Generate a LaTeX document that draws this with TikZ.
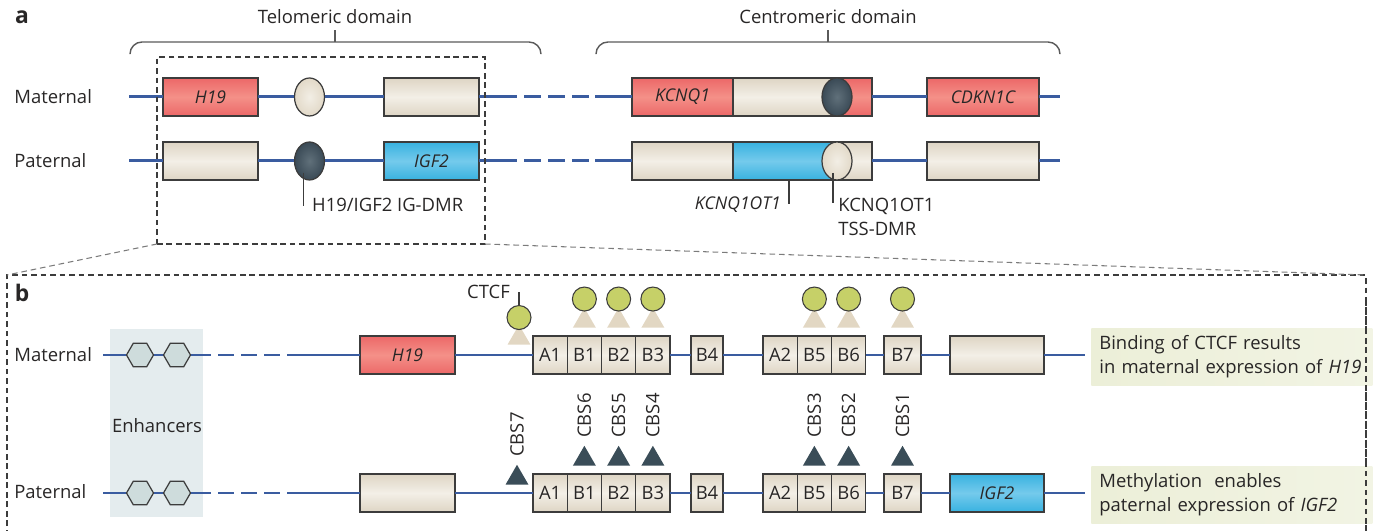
\documentclass[tikz,border=0pt]{standalone}
\usepackage{fontspec}
\setmainfont{Open Sans}
\usepackage{tikz}
\usetikzlibrary{shapes,arrows,positioning}

\definecolor{ink}{RGB}{40,38,38}
\definecolor{edge}{RGB}{60,60,60}
\definecolor{dnablue}{RGB}{58,92,160}
\definecolor{genered}{RGB}{236,104,104}
\definecolor{generedlt}{RGB}{244,144,136}
\definecolor{beige}{RGB}{222,213,196}
\definecolor{beigelt}{RGB}{243,239,231}
\definecolor{geneblue}{RGB}{56,178,224}
\definecolor{genebluelt}{RGB}{116,202,236}
\definecolor{methdk}{RGB}{58,74,86}
\definecolor{methlt}{RGB}{96,112,122}
\definecolor{unmeth}{RGB}{226,217,200}
\definecolor{unmethlt}{RGB}{242,238,229}
\definecolor{hexfill}{RGB}{206,220,220}
\definecolor{enhbg}{RGB}{228,236,238}
\definecolor{ctcfgreen}{RGB}{198,208,104}
\definecolor{sitebeige}{RGB}{226,215,195}
\definecolor{sitedark}{RGB}{58,77,88}
\definecolor{notegreen}{RGB}{236,239,216}
\definecolor{bracegrey}{RGB}{90,90,90}

\tikzstyle{dna} = [draw=dnablue, line width=1.7pt]
\tikzstyle{gapa} = [dna, dash pattern=on 3.4mm off 1.4mm, dash phase=3.4mm]
\tikzstyle{gapb} = [dna, dash pattern=on 3.2mm off 1.4mm, dash phase=3.2mm]
\tikzstyle{gbox} = [rectangle, draw=edge, line width=0.7pt, inner sep=0pt, outer sep=0pt, minimum height=7.6mm]
\tikzstyle{rbox} = [gbox, top color=genered, bottom color=genered, middle color=generedlt, font=\itshape]
\tikzstyle{wbox} = [gbox, top color=beige, bottom color=beige, middle color=beigelt]
\tikzstyle{bbox} = [gbox, top color=geneblue, bottom color=geneblue, middle color=genebluelt, font=\itshape]
\tikzstyle{seg} = [wbox, minimum width=6.85mm]
\tikzstyle{dmr} = [ellipse, draw=edge, line width=0.7pt, minimum width=6mm, minimum height=7.6mm, inner sep=0pt]
\tikzstyle{meth} = [dmr, inner color=methlt, outer color=methdk]
\tikzstyle{unmeth} = [dmr, inner color=unmethlt, outer color=unmeth]
\tikzstyle{enh} = [regular polygon, regular polygon sides=6, draw=edge, line width=0.7pt, fill=hexfill, minimum size=5.4mm, inner sep=0pt]
\tikzstyle{ctcf} = [circle, draw=edge, line width=0.6pt, fill=ctcfgreen, minimum size=4.8mm, inner sep=0pt]
\tikzstyle{site} = [regular polygon, regular polygon sides=3, inner sep=0pt, minimum size=5.3mm, anchor=south]
\tikzstyle{bound} = [site, fill=sitebeige]
\tikzstyle{free} = [site, fill=sitedark]
\tikzstyle{cbs} = [rotate=90, inner sep=0pt, anchor=west]
\tikzstyle{row} = [anchor=west, inner sep=0pt]
\tikzstyle{callout} = [draw=edge, line width=0.6pt]
\tikzstyle{frame} = [draw=edge, line width=0.6pt, dash pattern=on 3.2pt off 2.2pt]
\tikzstyle{brace} = [draw=bracegrey, line width=0.8pt, rounded corners=2.4mm]
\tikzstyle{note} = [left color=notegreen, right color=notegreen!70!white, anchor=north west, minimum height=11.4mm, text width=53mm, inner xsep=1.6mm, align=left]
\tikzstyle{panel} = [font=\fontsize{13}{15}\selectfont\bfseries]

\begin{document}
\begin{tikzpicture}[x=0.2mm, y=-0.2mm, font=\fontsize{10.5}{13.6}\selectfont, text=ink]
\useasboundingbox (0,0) rectangle (1373,531);

% a: whole locus
\node[panel] (pa) at (22,17) {a};
\node (telo) at (335,17) {Telomeric domain};
\node (centro) at (828,17) {Centromeric domain};
\coordinate (telomid) at (335,42);
\coordinate (centromid) at (828,42);
\draw[brace] (130,54) |- (telomid) -| (541,54);
\draw[brace] (596,54) |- (centromid) -| (1060,54);
\draw[callout, draw=bracegrey] (telomid) -- (telo.south);
\draw[callout, draw=bracegrey] (centromid) -- (centro.south);

\node[row] (matA) at (14,97) {Maternal};
\node[row] (patA) at (14,161) {Paternal};

\coordinate (ma0) at (129,97);
\node[rbox, minimum width=19mm] (h19a) at (210.5,97) {H19};
\node[unmeth] (igm) at (309.5,97) {};
\node[wbox, minimum width=19mm] (igf2m) at (431.5,97) {};
\coordinate (ma1) at (517,97);
\coordinate (ma2) at (595,97);
\node[rbox, minimum width=48mm] (kcnqm) at (752,97) {};
\node[wbox, minimum width=20.8mm, anchor=west] (kcnqmid) at (733,97) {};
\node[meth] (tssm) at (837,97) {};
\node[font=\itshape] (kcnq1) at (682.5,97) {KCNQ1};
\node[rbox, minimum width=22.4mm] (cdkn) at (983,97) {CDKN1C};
\coordinate (ma3) at (1060,97);

\draw[dna] (ma0) -- (h19a) -- (igm) -- (igf2m) -- (ma1);
\draw[gapa] (ma1) -- (ma2);
\draw[dna] (ma2) -- (kcnqm) -- (cdkn) -- (ma3);

\coordinate (pa0) at (129,161);
\node[wbox, minimum width=19mm] (h19p) at (210.5,161) {};
\node[meth] (igp) at (309.5,161) {};
\node[bbox, minimum width=19mm] (igf2p) at (431.5,161) {IGF2};
\coordinate (pa1) at (517,161);
\coordinate (pa2) at (595,161);
\node[wbox, minimum width=48mm] (kcnqp) at (752,161) {};
\node[bbox, minimum width=20.8mm, anchor=west] (ot1) at (733,161) {};
\node[unmeth] (tssp) at (837,161) {};
\node[wbox, minimum width=22.4mm] (cdknp) at (983,161) {};
\coordinate (pa3) at (1060,161);

\draw[dna] (pa0) -- (h19p) -- (igp) -- (igf2p) -- (pa1);
\draw[gapa] (pa1) -- (pa2);
\draw[dna] (pa2) -- (kcnqp) -- (cdknp) -- (pa3);

\node[anchor=west] (igtxt) at (306,205) {H19/IGF2 IG-DMR};
\draw[callout] ([xshift=-1.2mm, yshift=1.6mm]igp.south) -- ++(0,-6.6mm);
\node[anchor=east, font=\itshape] (ot1txt) at (787,205) {KCNQ1OT1};
\draw[callout] ([xshift=0.8mm]ot1.south) -- ++(0,-4.8mm);
\node[anchor=north west, inner sep=0pt, align=left] (tsstxt) at (838,198) {KCNQ1OT1\\TSS-DMR};
\draw[callout] ([xshift=-0.8mm, yshift=-2.4mm]tssp.center) -- ++(0,-6mm);

% zoom frames
\node[frame, rectangle, minimum width=65.6mm, minimum height=37.4mm, anchor=north west, inner sep=0pt, outer sep=0pt] (zoomA) at (157,57) {};
\coordinate (bNW) at (7,275);
\coordinate (bNE) at (1366,275);
\draw[frame] (7,545) -- (bNW) -- (bNE) -- (1366,545);
\draw[frame, draw=bracegrey!80] (zoomA.south west) -- (bNW);
\draw[frame, draw=bracegrey!80] (zoomA.south east) -- (bNE);

% b: imprinting control region
\node[panel] (pb) at (22,293) {b};
\node[fill=enhbg, minimum width=18.6mm, minimum height=37.6mm, anchor=north west, inner sep=0pt] (enhbox) at (110,329) {};
\node (enhtxt) at (157,426) {Enhancers};
\node[row] (matB) at (14,355) {Maternal};
\node[row] (patB) at (14,492) {Paternal};

\coordinate (mb0) at (103,355);
\node[enh] (em1) at (140,355) {};
\node[enh] (em2) at (177,355) {};
\coordinate (mb1) at (211,355);
\coordinate (mb2) at (287,355);
\node[rbox, minimum width=19mm] (h19b) at (407.5,355) {H19};
\node[seg, anchor=west] (a1m) at (533,355) {A1};
\node[seg, right=0pt of a1m] (b1m) {B1};
\node[seg, right=0pt of b1m] (b2m) {B2};
\node[seg, right=0pt of b2m] (b3m) {B3};
\node[wbox, minimum width=6.4mm] (b4m) at (707,355) {B4};
\node[seg, anchor=west] (a2m) at (763,355) {A2};
\node[seg, right=0pt of a2m] (b5m) {B5};
\node[seg, right=0pt of b5m] (b6m) {B6};
\node[wbox, minimum width=7.4mm] (b7m) at (902.5,355) {B7};
\node[wbox, minimum width=18.8mm] (endm) at (997,355) {};
\coordinate (mb3) at (1085,355);

\draw[dna] (mb0) -- (em1) -- (em2) -- (mb1);
\draw[gapb] (mb1) -- (mb2);
\draw[dna] (mb2) -- (h19b) -- (a1m);
\draw[dna] (b3m) -- (b4m) -- (a2m);
\draw[dna] (b6m) -- (b7m) -- (endm) -- (mb3);

\node[bound] (s7m) at (519,345) {};
\node[ctcf, above=-1.2mm of s7m] (c7m) {};
\node[anchor=east] (ctcftxt) at (516,292) {CTCF};
\draw[callout] (c7m.north) -- (c7m.north |- ctcftxt.center);
\node[bound, above=1.6mm of b1m] (s6m) {};
\node[bound, above=1.6mm of b2m] (s5m) {};
\node[bound, above=1.6mm of b3m] (s4m) {};
\node[bound, above=1.6mm of b5m] (s3m) {};
\node[bound, above=1.6mm of b6m] (s2m) {};
\node[bound, above=1.6mm of b7m] (s1m) {};
\node[ctcf, above=-0.9mm of s6m] (c6m) {};
\node[ctcf, above=-0.9mm of s5m] (c5m) {};
\node[ctcf, above=-0.9mm of s4m] (c4m) {};
\node[ctcf, above=-0.9mm of s3m] (c3m) {};
\node[ctcf, above=-0.9mm of s2m] (c2m) {};
\node[ctcf, above=-0.9mm of s1m] (c1m) {};

\node[note] (matnote) at (1091,328) {Binding of CTCF results\\in maternal expression of \textit{H19}};

\coordinate (pb0) at (103,493);
\node[enh] (ep1) at (140,493) {};
\node[enh] (ep2) at (177,493) {};
\coordinate (pb1) at (211,493);
\coordinate (pb2) at (287,493);
\node[wbox, minimum width=19mm] (h19bp) at (407.5,493) {};
\node[seg, anchor=west] (a1p) at (533,493) {A1};
\node[seg, right=0pt of a1p] (b1p) {B1};
\node[seg, right=0pt of b1p] (b2p) {B2};
\node[seg, right=0pt of b2p] (b3p) {B3};
\node[wbox, minimum width=6.4mm] (b4p) at (707,493) {B4};
\node[seg, anchor=west] (a2p) at (763,493) {A2};
\node[seg, right=0pt of a2p] (b5p) {B5};
\node[seg, right=0pt of b5p] (b6p) {B6};
\node[wbox, minimum width=7.4mm] (b7p) at (902.5,493) {B7};
\node[bbox, minimum width=18.8mm] (igf2b) at (997,493) {IGF2};
\coordinate (pb3) at (1085,493);

\draw[dna] (pb0) -- (ep1) -- (ep2) -- (pb1);
\draw[gapb] (pb1) -- (pb2);
\draw[dna] (pb2) -- (h19bp) -- (a1p);
\draw[dna] (b3p) -- (b4p) -- (a2p);
\draw[dna] (b6p) -- (b7p) -- (igf2b) -- (pb3);

\node[free] (t7) at (517,485) {};
\node[free, above=1.6mm of b1p] (t6) {};
\node[free, above=1.6mm of b2p] (t5) {};
\node[free, above=1.6mm of b3p] (t4) {};
\node[free, above=1.6mm of b5p] (t3) {};
\node[free, above=1.6mm of b6p] (t2) {};
\node[free, above=1.6mm of b7p] (t1) {};
\node[cbs, above=1.4mm of t7, anchor=west] {CBS7};
\node[cbs, above=1.4mm of t6, anchor=west] {CBS6};
\node[cbs, above=1.4mm of t5, anchor=west] {CBS5};
\node[cbs, above=1.4mm of t4, anchor=west] {CBS4};
\node[cbs, above=1.4mm of t3, anchor=west] {CBS3};
\node[cbs, above=1.4mm of t2, anchor=west] {CBS2};
\node[cbs, above=1.4mm of t1, anchor=west] {CBS1};

\node[note] (patnote) at (1091,466) {Methylation\ \ enables\\paternal expression of \textit{IGF2}};
\draw[frame] (1366,300) -- (1366,545);
\end{tikzpicture}
\end{document}
